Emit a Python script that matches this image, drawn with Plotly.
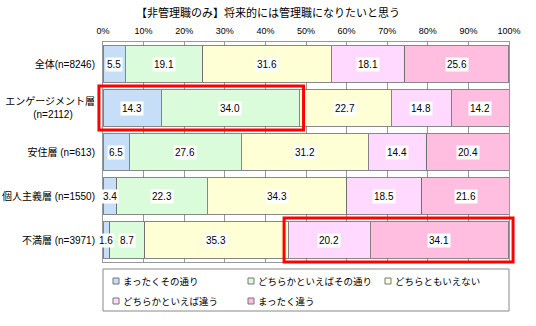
import plotly.graph_objects as go
import numpy as np

title = "【非管理職のみ】将来的には管理職になりたいと思う"
categories = ["全体(n=8246)",
              "エンゲージメント層<br>(n=2112)<span style='color:rgba(0,0,0,0)'>0000</span>",
              "安住層 (n=613)", "個人主義層 (n=1550)", "不満層 (n=3971)"]
series_names = ["まったくその通り", "どちらかといえばその通り", "どちらともいえない", "どちらかといえば違う", "まったく違う"]
v_zenzen_sono = [5.5, 14.3, 6.5, 3.4, 1.6]
v_dochira_sono = [19.1, 34.0, 27.6, 22.3, 8.7]
v_dochiramo = [31.6, 22.7, 31.2, 34.3, 35.3]
v_dochira_chigau = [18.1, 14.8, 14.4, 18.5, 20.2]
v_mattaku_chigau = [25.6, 14.2, 20.4, 21.6, 34.1]
tick_vals = [0, 10, 20, 30, 40, 50, 60, 70, 80, 90, 100]
tick_text = ["0%", "10%", "20%", "30%", "40%", "50%", "60%", "70%", "80%", "90%", "100%"]
highlights = [(1, 0, 1), (4, 3, 4)]  # (category index, first series, last series)

series = [v_zenzen_sono, v_dochira_sono, v_dochiramo, v_dochira_chigau, v_mattaku_chigau]
colors = ["#C6DEF8", "#DAFCDA", "#FFFFD6", "#FFD9FF", "#FFBEDF"]

FONT = "Liberation Sans, Noto Sans CJK JP, sans-serif"
PL, PR, PT, PB = 103, 509, 42, 262  # plot area in pixels
PW, PH = PR - PL, PB - PT


def px_x(p):
    return (p - PL) / PW


def px_y(p):
    return (PB - p) / PH


fig = go.Figure()
for name, vals, col in zip(series_names, series, colors):
    fig.add_trace(go.Bar(y=categories, x=vals, orientation="h", name=name,
                         marker=dict(color=col, line=dict(color="#6a6a6a", width=0.8)),
                         width=0.84, showlegend=False, hoverinfo="skip"))

arr = np.array(series)
cum = np.cumsum(arr, axis=0) - arr
annotations = []
for s in range(arr.shape[0]):
    for c in range(arr.shape[1]):
        annotations.append(dict(x=cum[s, c] + arr[s, c] / 2, y=categories[c], xref="x", yref="y",
                                text=f"{arr[s, c]:.1f}", showarrow=False, bgcolor="white",
                                borderpad=1, font=dict(size=10, color="black", family=FONT)))
annotations.append(dict(x=px_x(268), y=px_y(13), xref="paper", yref="paper", text=title,
                        showarrow=False, xanchor="center", yanchor="middle",
                        font=dict(size=11, color="black", family=FONT)))

shapes = []
n = len(categories)
for ci, s0, s1 in highlights:
    x0 = (cum[s0, ci] - 1.0) / 100
    x1 = (cum[s1, ci] + arr[s1, ci] + 1.1) / 100
    y0 = 1 - ci / n
    y1 = 1 - (ci + 1) / n
    shapes.append(dict(type="rect", xref="paper", yref="paper", x0=x0, x1=x1, y0=y0, y1=y1,
                       line=dict(color="#FF0000", width=3), fillcolor="rgba(0,0,0,0)", layer="above"))

# custom legend (box + swatches + labels)
shapes.append(dict(type="rect", xref="paper", yref="paper", x0=0, x1=1, y0=px_y(269), y1=px_y(311),
                   line=dict(color="#888", width=1), fillcolor="rgba(0,0,0,0)"))
leg_cols = [113, 248, 385]
leg_rows = [281, 301]
for i, (name, col) in enumerate(zip(series_names, colors)):
    cx = leg_cols[i % 3]
    cy = leg_rows[i // 3]
    shapes.append(dict(type="rect", xref="paper", yref="paper",
                       x0=px_x(cx), x1=px_x(cx + 6), y0=px_y(cy - 3), y1=px_y(cy + 3),
                       line=dict(color="#777", width=1), fillcolor=col))
    annotations.append(dict(x=px_x(cx + 8), y=px_y(cy), xref="paper", yref="paper", text=name,
                            showarrow=False, xanchor="left", yanchor="middle",
                            font=dict(size=9.5, color="black", family=FONT)))

fig.update_layout(
    width=536, height=326, barmode="stack",
    margin=dict(l=PL, r=536 - PR, t=PT, b=326 - PB, autoexpand=False),
    paper_bgcolor="white", plot_bgcolor="white", showlegend=False,
    font=dict(family=FONT, size=10, color="black"),
    xaxis=dict(range=[0, 100], side="top", tickvals=tick_vals, ticktext=tick_text,
               tickfont=dict(size=9), showgrid=True, gridcolor="#999", gridwidth=1,
               showline=True, linecolor="#999", mirror=True, zeroline=False,
               ticks="", ticklabelstandoff=3, fixedrange=True, automargin=False),
    yaxis=dict(categoryorder="array", categoryarray=categories, autorange="reversed",
               showline=True, linecolor="#999", mirror=True, ticks="",
               ticklabelstandoff=5, tickfont=dict(size=10), fixedrange=True, automargin=False),
    annotations=annotations, shapes=shapes,
)
fig.write_html("out.html")
